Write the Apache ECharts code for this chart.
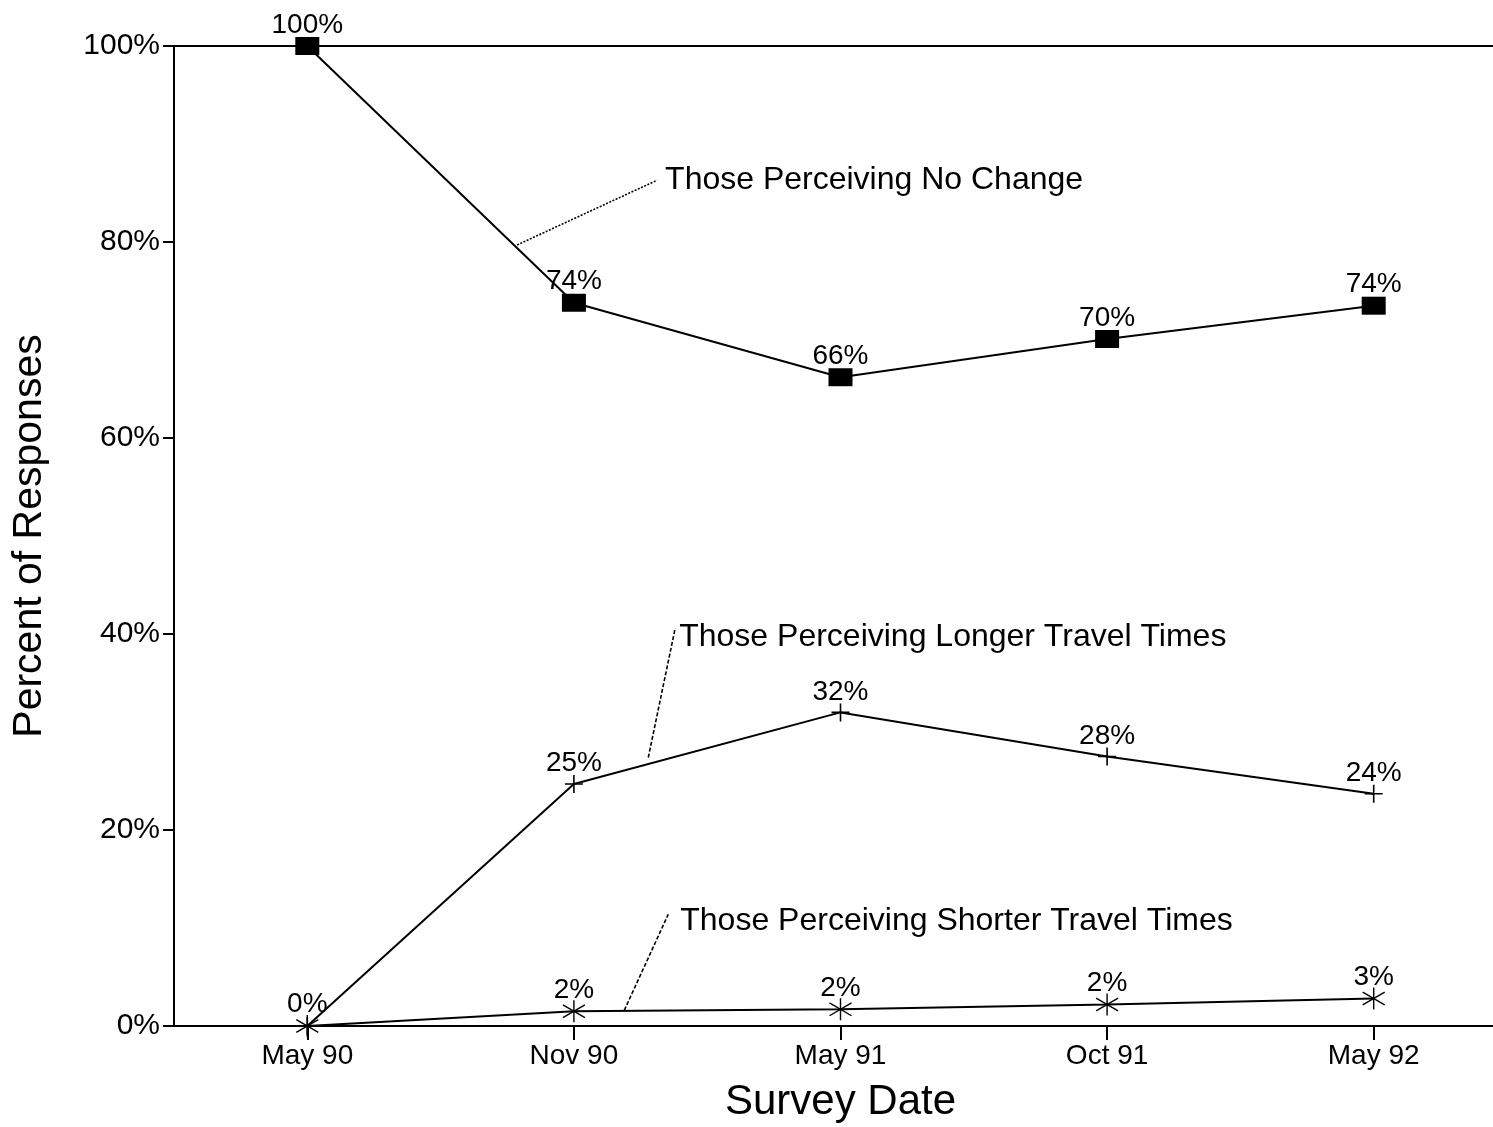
<!DOCTYPE html>
<html>
<head>
<meta charset="utf-8">
<script src="https://cdn.jsdelivr.net/npm/echarts@6/dist/echarts.min.js"></script>
<style>html,body{margin:0;padding:0;background:#fff;}#c{width:1493px;height:1127px;}</style>
</head>
<body>
<div id="c"></div>
<script>
const categories = ['May 90', 'Nov 90', 'May 91', 'Oct 91', 'May 92'];
const noChange = [100, 73.8, 66.2, 70.1, 73.5];
const longer = [0, 24.7, 32, 27.5, 23.7];
const shorter = [0, 1.5, 1.7, 2.2, 2.8];
const yTicks = [0, 20, 40, 60, 80, 100];
const noChangeLabels = ['100%', '74%', '66%', '70%', '74%'];
const longerLabels = ['', '25%', '32%', '28%', '24%'];
const shorterLabels = ['0%', '2%', '2%', '2%', '3%'];
// annotation leader lines, in data coordinates (x = category index)
const noteNoChange = [[0.787, 79.7], [1.312, 86.3]];
const noteLonger = [[1.279, 27.4], [1.380, 40.6]];
const noteShorter = [[1.189, 1.6], [1.354, 11.4]];
const noteTexts = ['Those Perceiving No Change', 'Those Perceiving Longer Travel Times', 'Those Perceiving Shorter Travel Times'];

const FONT = '"Liberation Sans", Arial, Helvetica, sans-serif';
const chart = echarts.init(document.getElementById('c'), null, {renderer: 'canvas'});

function mkLabel(texts, dist) {
  return {
    show: true, position: 'top', distance: dist,
    fontFamily: FONT, fontSize: 28, color: '#000',
    formatter: p => texts[p.dataIndex]
  };
}
function noteSeries(pts, text, offset, dash) {
  return {
    type: 'line', xAxisIndex: 1, yAxisIndex: 0, silent: true,
    symbol: 'none', z: 1,
    lineStyle: {color: '#000', width: 1.6, type: dash},
    endLabel: {show: true, distance: 8, offset: offset,
      fontFamily: FONT, fontSize: 32, color: '#000', formatter: text},
    data: pts
  };
}

const plus = 'path://M0,-10L0,10M-10,0L10,0';
const star = 'path://M0,-12L0,12M-12,-7L12,7M-12,7L12,-7';

chart.setOption({
  animation: false,
  backgroundColor: '#fff',
  grid: {left: 174, width: 1333, top: 46, bottom: 101, containLabel: false, outerBoundsMode: 'none'},
  xAxis: [{
    type: 'category', data: categories, boundaryGap: true, position: 'bottom',
    axisLine: {show: true, onZero: false, lineStyle: {color: '#000', width: 2}},
    axisTick: {show: true, alignWithLabel: true, length: 14, lineStyle: {color: '#000', width: 2}},
    axisLabel: {fontFamily: FONT, fontSize: 28, color: '#000', margin: 16},
    splitLine: {show: false},
    name: 'Survey Date', nameLocation: 'middle', nameGap: 55,
    nameTextStyle: {fontFamily: FONT, fontSize: 42, color: '#000'}
  }, {
    type: 'value', min: -0.5, max: 4.5, position: 'top',
    axisLine: {show: true, onZero: false, lineStyle: {color: '#000', width: 2}},
    axisTick: {show: false}, axisLabel: {show: false}, splitLine: {show: false}
  }],
  yAxis: [{
    type: 'value', min: yTicks[0], max: yTicks[yTicks.length - 1], interval: 20,
    axisLine: {show: true, onZero: false, lineStyle: {color: '#000', width: 2}},
    axisTick: {show: true, length: 11, lineStyle: {color: '#000', width: 2}},
    axisLabel: {fontFamily: FONT, fontSize: 30, color: '#000', margin: 14, formatter: '{value}%'},
    splitLine: {show: false},
    name: 'Percent of Responses', nameLocation: 'middle', nameGap: 124,
    nameTextStyle: {fontFamily: FONT, fontSize: 41, color: '#000'}
  }],
  series: [
    {
      type: 'line', name: 'No Change', data: noChange,
      symbol: 'rect', symbolSize: [24, 18],
      lineStyle: {color: '#000', width: 2},
      itemStyle: {color: '#000'},
      label: mkLabel(noChangeLabels, -2), z: 3
    },
    {
      type: 'line', name: 'Longer', data: longer,
      symbol: plus, symbolSize: 18, symbolKeepAspect: true,
      lineStyle: {color: '#000', width: 2},
      itemStyle: {color: 'none', borderColor: '#000', borderWidth: 1.6},
      label: mkLabel(longerLabels, -5), z: 3
    },
    {
      type: 'line', name: 'Shorter', data: shorter,
      symbol: star, symbolSize: [22, 22], symbolKeepAspect: true,
      lineStyle: {color: '#000', width: 2},
      itemStyle: {color: 'none', borderColor: '#000', borderWidth: 1.4},
      label: mkLabel(shorterLabels, -6), z: 3
    },
    noteSeries(noteNoChange, noteTexts[0], [0, 0], [2, 1.5]),
    noteSeries(noteLonger, noteTexts[1], [-4, 9], [4, 2]),
    noteSeries(noteShorter, noteTexts[2], [4, 7], [4, 2])
  ]
});
</script>
</body>
</html>
